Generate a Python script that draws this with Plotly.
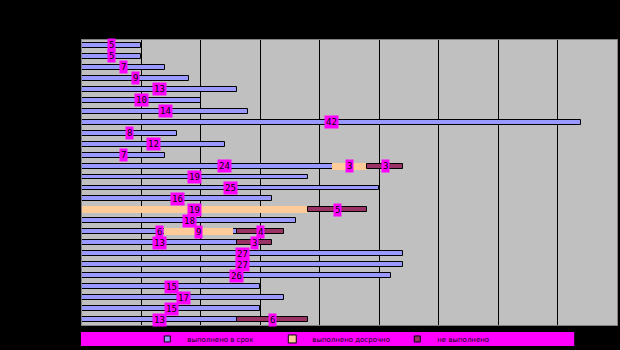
import plotly.graph_objects as go

rows = list(range(1, 27))
blue_vals = [5, 5, 7, 9, 13, 10, 14, 42, 8, 12, 7, 24, 19, 25, 16, 19, 18, 13, 13, 27, 27, 26, 15, 17, 15, 13]
blue_text = ["5", "5", "7", "9", "13", "10", "14", "42", "8", "12", "7", "24", "19", "25", "16", "", "18", "6", "13", "27", "27", "26", "15", "17", "15", "13"]

peach_rows = [12, 16, 18]
peach_base = [21, 0, 6.9]
peach_vals = [3, 19, 5.8]
peach_text = ["3", "19", "9"]

red_rows = [12, 16, 18, 19, 26]
red_vals = [3, 5, 4, 3, 6]
red_text = ["3", "5", "4", "3", "6"]

names = ["выполнено в срок", "выполнено досрочно", "не выполнено"]
colors = ["#9999FF", "#FFCC99", "#993366"]

blue_of = dict(zip(rows, blue_vals))
red_base = [blue_of[r] for r in red_rows]

fig = go.Figure()
fig.add_trace(go.Bar(y=rows, x=blue_vals, orientation="h", width=0.45, showlegend=False,
                     marker=dict(color=colors[0], line=dict(color="black", width=1))))
fig.add_trace(go.Bar(y=peach_rows, x=peach_vals, base=peach_base, orientation="h", width=0.64, showlegend=False,
                     marker=dict(color=colors[1], line=dict(color="black", width=0))))
fig.add_trace(go.Bar(y=red_rows, x=red_vals, base=red_base, orientation="h", width=0.45, showlegend=False,
                     marker=dict(color=colors[2], line=dict(color="black", width=1))))

# legend entries (small square swatches)
for nm, c, sz in zip(names, colors, [6, 8, 6]):
    fig.add_trace(go.Scatter(x=[None], y=[None], mode="markers", name=nm,
                             marker=dict(symbol="square", size=sz, color=c, line=dict(color="black", width=1))))

def lab(xc, yc, t):
    if t:
        fig.add_annotation(x=xc, y=yc, text=t, showarrow=False, xref="x", yref="y",
                           bgcolor="#FF00FF", borderpad=1,
                           font=dict(family="DejaVu Sans Mono", size=9, color="black"))

for r, v, t in zip(rows, blue_vals, blue_text):
    lab(v / 2, r, t)
for r, b, v, t in zip(peach_rows, peach_base, peach_vals, peach_text):
    lab(b + v / 2, r, t)
for r, b, v, t in zip(red_rows, red_base, red_vals, red_text):
    lab(b + v / 2, r, t)

fig.add_shape(type="rect", xref="paper", yref="paper", x0=-0.002, x1=0.92, y0=-0.0737, y1=-0.0246,
              fillcolor="#FF00FF", line=dict(width=0), layer="below")

fig.update_layout(
    width=620, height=350,
    margin=dict(l=82, r=3, t=40, b=25, autoexpand=False),
    paper_bgcolor="black", plot_bgcolor="#C0C0C0",
    barmode="overlay", bargap=0,
    showlegend=True,
    legend=dict(orientation="h", x=0.122, xanchor="left", y=-0.049, yanchor="middle",
                bgcolor="rgba(0,0,0,0)", font=dict(size=7, color="black", family="DejaVu Sans"),
                entrywidth=80, entrywidthmode="pixels", itemwidth=30, tracegroupgap=0),
)
fig.update_xaxes(range=[0, 45], dtick=5, showgrid=True, gridcolor="black", gridwidth=1,
                 showticklabels=False, zeroline=False, showline=True, linecolor="#808080", mirror=True)
fig.update_yaxes(range=[26.5, 0.5], showgrid=False, showticklabels=False, zeroline=False,
                 showline=True, linecolor="#808080", mirror=True)

fig.write_html("out.html")
